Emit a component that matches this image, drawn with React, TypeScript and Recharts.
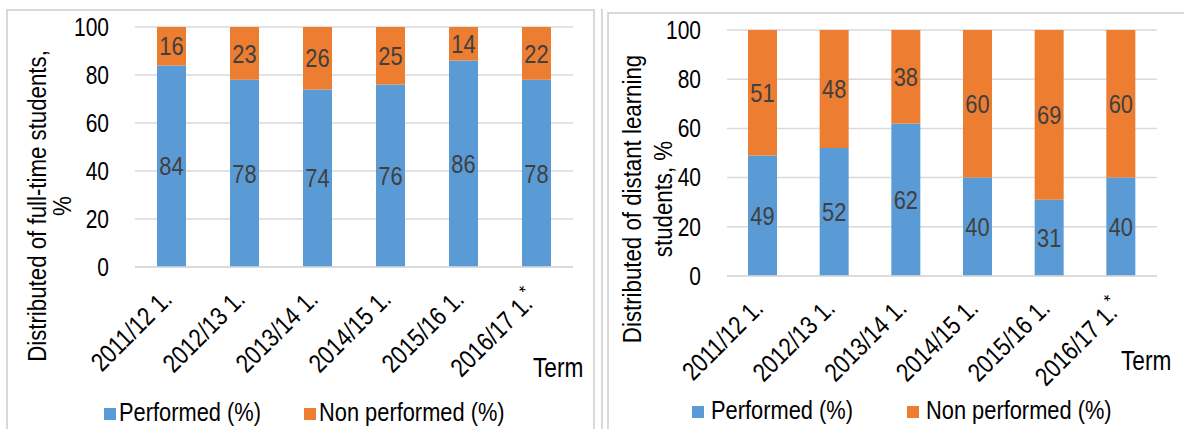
import React from "react";
import { BarChart, Bar, XAxis, YAxis, CartesianGrid, Legend, LabelList, Label } from "recharts";

const terms = ["2011/12 1.", "2012/13 1.", "2013/14 1.", "2014/15 1.", "2015/16 1.", "2016/17 1."];
const termNotes = ["", "", "", "", "", "*"];
const fullTimePerformed = [84, 78, 74, 76, 86, 78];
const fullTimeNonPerformed = [16, 23, 26, 25, 14, 22];
const distantPerformed = [49, 52, 62, 40, 31, 40];
const distantNonPerformed = [51, 48, 38, 60, 69, 60];
const yTicks = [0, 20, 40, 60, 80, 100];
const seriesNames = ["Performed (%)", "Non performed (%)"];

const BLUE = "#5B9BD5";
const ORANGE = "#ED7D31";
const GRID = "#D9D9D9";
const FONT = '"Liberation Sans", Arial, sans-serif';
// the source chart uses a condensed face; squeeze Liberation Sans to match
const NARROW = 0.84;

function NarrowText({ x, y, angle = 0, anchor = "start", size, fill = "#000", dy, children }: any) {
  return (
    <g transform={`translate(${x} ${y}) rotate(${angle}) scale(${NARROW} 1)`}>
      <text x={0} y={0} dy={dy} textAnchor={anchor} fontFamily={FONT} fontSize={size} fill={fill}>
        {children}
      </text>
    </g>
  );
}

function TermTick({ x, y, payload }: any) {
  const note = termNotes[terms.indexOf(payload.value)];
  return (
    <NarrowText x={x + 2} y={y + 34} angle={-45} anchor="end" size={26}>
      {payload.value}
      {note ? (
        <tspan dy="-0.55em" fontSize={19}>
          {note}
        </tspan>
      ) : null}
    </NarrowText>
  );
}

function PercentTick({ x, y, payload }: any) {
  return (
    <NarrowText x={x} y={y} anchor="end" size={25} dy="0.355em">
      {payload.value}
    </NarrowText>
  );
}

function SegmentLabel({ x, y, width, height, value }: any) {
  return (
    <NarrowText x={x + width / 2} y={y + height / 2} anchor="middle" size={26} fill="#404040" dy="0.355em">
      {value}
    </NarrowText>
  );
}

function makeLegend(width: number, itemX: number[], textGap: number, baseline: number) {
  return () => (
    <svg width={width} height={40} style={{ display: "block" }}>
      {seriesNames.map((name, i) => (
        <g key={name}>
          <rect x={itemX[i]} y={baseline - 13} width={12} height={12} fill={i === 0 ? BLUE : ORANGE} />
          <NarrowText x={itemX[i] + textGap} y={baseline} size={26}>
            {name}
          </NarrowText>
        </g>
      ))}
    </svg>
  );
}

interface PanelProps {
  performed: number[];
  nonPerformed: number[];
  width: number;
  margin: { top: number; right: number; bottom: number; left: number };
  titleLines: string[];
  titleX: number[];
  titleY: number;
  termPos: [number, number];
  legendX: number[];
  legendGap: number;
  legendBaseline: number;
}

function Panel(p: PanelProps) {
  const data = terms.map((t, i) => ({
    term: t,
    performed: p.performed[i],
    nonPerformed: p.nonPerformed[i],
  }));
  const legendTop = 390;
  return (
    <BarChart width={p.width} height={429} data={data} margin={p.margin}>
      <CartesianGrid vertical={false} stroke={GRID} strokeWidth={1.5} />
      <XAxis
        dataKey="term"
        height={100}
        interval={0}
        tickSize={0}
        tickMargin={0}
        tickLine={false}
        axisLine={{ stroke: GRID, strokeWidth: 1.5 }}
        tick={<TermTick />}
      >
        <Label
          content={() => (
            <NarrowText x={p.termPos[0]} y={p.termPos[1]} size={27}>
              Term
            </NarrowText>
          )}
        />
      </XAxis>
      <YAxis
        width={60}
        domain={[0, 100]}
        ticks={yTicks}
        allowDataOverflow
        tickLine={false}
        axisLine={false}
        tickSize={0}
        tickMargin={26}
        tick={<PercentTick />}
      >
        <Label
          content={() => (
            <g>
              {p.titleLines.map((line, i) => (
                <NarrowText key={i} x={p.titleX[i]} y={p.titleY} angle={-90} anchor="middle" size={26.5} dy="0.35em">
                  {line}
                </NarrowText>
              ))}
            </g>
          )}
        />
      </YAxis>
      <Legend
        verticalAlign="middle"
        align="center"
        layout="horizontal"
        wrapperStyle={{ top: legendTop, left: 0, width: p.width }}
        content={makeLegend(p.width, p.legendX, p.legendGap, p.legendBaseline - legendTop)}
      />
      <Bar dataKey="performed" stackId="a" fill={BLUE} barSize={29} isAnimationActive={false}>
        <LabelList dataKey="performed" content={<SegmentLabel />} />
      </Bar>
      <Bar dataKey="nonPerformed" stackId="a" fill={ORANGE} barSize={29} isAnimationActive={false}>
        <LabelList dataKey="nonPerformed" content={<SegmentLabel />} />
      </Bar>
    </BarChart>
  );
}

export default function App() {
  return (
    <div style={{ position: "absolute", left: 0, top: 0, width: 1184, height: 429, overflow: "hidden", background: "#fff" }}>
      <div style={{ position: "absolute", left: 6, top: 9, width: 585, height: 440, border: `2px solid ${GRID}` }} />
      <div style={{ position: "absolute", left: 601, top: 9, width: 0, height: 440, borderLeft: `2px solid ${GRID}` }} />
      <div style={{ position: "absolute", left: 607, top: 12, width: 600, height: 440, border: `2px solid ${GRID}` }} />
      <div style={{ position: "absolute", left: 0, top: 0 }}>
        <Panel
          performed={fullTimePerformed}
          nonPerformed={fullTimeNonPerformed}
          width={600}
          margin={{ top: 27, right: 27, bottom: 62, left: 75 }}
          titleLines={["Distributed of full-time students,", "%"]}
          titleX={[37, 62]}
          titleY={206}
          termPos={[533, 377]}
          legendX={[104, 304]}
          legendGap={15}
          legendBaseline={421}
        />
      </div>
      <div style={{ position: "absolute", left: 600, top: 0 }}>
        <Panel
          performed={distantPerformed}
          nonPerformed={distantNonPerformed}
          width={584}
          margin={{ top: 30, right: 27, bottom: 53, left: 67 }}
          titleLines={["Distributed of distant learning", "students, %"]}
          titleX={[32, 63]}
          titleY={199}
          termPos={[521, 370]}
          legendX={[92, 307]}
          legendGap={19}
          legendBaseline={419}
        />
      </div>
    </div>
  );
}
